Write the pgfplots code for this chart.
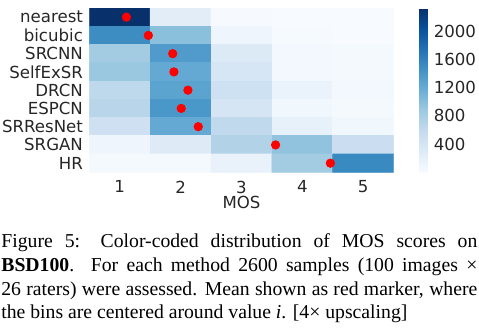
\documentclass[border=0pt]{standalone}
\usepackage{fontspec}
\setmainfont{Liberation Serif}
\newfontfamily\djv{DejaVu Sans}
\usepackage{pgfplots}
\pgfplotsset{compat=1.18}
\definecolor{txt}{HTML}{262626}
\begin{document}
\begin{tikzpicture}
\path[use as bounding box] (-44.65pt,-77.85pt) rectangle (194.85pt,86.15pt);
\begin{axis}[
  scale only axis, width=152.2pt, height=82.15pt,
  xmin=0.5, xmax=5.5, ymin=-0.5, ymax=8.5, y dir=reverse,
  xtick={1,2,3,4,5}, ytick={0,1,2,3,4,5,6,7,8},
  yticklabels={nearest,bicubic,SRCNN,SelfExSR,DRCN,ESPCN,SRResNet,SRGAN,HR},
  axis line style={draw=none}, major tick length=0pt, tick style={draw=none},
  tick label style={font=\djv\fontsize{8.3}{10}\selectfont, text=txt, inner sep=0pt},
  xticklabel style={yshift=-4pt},
  yticklabel style={xshift=-3pt},
  /pgf/number format/assume math mode=true,
  /pgf/number format/1000 sep={},
  xlabel={MOS},
  xlabel style={font=\djv\fontsize{8.3}{10}\selectfont, text=txt, inner sep=0pt,
    at={(axis description cs:0.5,0)}, anchor=north, yshift=-11.5pt},
  colormap={blues}{rgb255(0)=(247,251,255) rgb255(1)=(222,235,247) rgb255(2)=(198,219,239)
    rgb255(3)=(158,202,225) rgb255(4)=(107,174,214) rgb255(5)=(66,146,198)
    rgb255(6)=(33,113,181) rgb255(7)=(8,81,156) rgb255(8)=(8,48,107)},
  point meta min=0, point meta max=2330,
  colorbar,
  colorbar style={
    at={(parent axis.north east)}, anchor=north west, xshift=4.3pt,
    scale only axis, width=4pt, height=82.15pt,
    ytick={400,800,1200,1600,2000},
    axis line style={draw=none}, major tick length=0pt, tick style={draw=none},
    yticklabel style={font=\djv\fontsize{8.3}{10}\selectfont, text=txt, inner sep=0pt, xshift=3pt},
    /pgf/number format/assume math mode=true,
    /pgf/number format/1000 sep={},
    scaled y ticks=false,
  },
]
\addplot[matrix plot*, point meta=explicit, mesh/cols=5] table[meta=c] {
x y c
1 0 2330
2 0 250
3 0 15
4 0 5
5 0 0
1 1 1500
2 1 980
3 1 100
4 1 20
5 1 0
1 2 840
2 2 1360
3 2 310
4 2 60
5 2 30
1 3 900
2 3 1220
3 3 390
4 3 60
5 3 30
1 4 640
2 4 1270
3 4 480
4 4 150
5 4 60
1 5 680
2 5 1400
3 5 400
4 5 80
5 5 40
1 6 490
2 6 1220
3 6 620
4 6 190
5 6 80
1 7 110
2 7 290
3 7 730
4 7 950
5 7 520
1 8 30
2 8 40
3 8 160
4 8 840
5 8 1530
};
\addplot[only marks, mark=*, mark size=2.1pt, color=red, mark options={draw=none, fill=red}] coordinates {
(1.11,0) (1.47,1) (1.87,2) (1.89,3) (2.12,4) (2.01,5) (2.29,6) (3.56,7) (4.46,8)
};
\end{axis}
\node[anchor=base west, inner sep=0pt, text width=238pt, align=justify,
  font=\fontsize{9.85}{11.85}\selectfont] at (-44.15pt,-37.75pt)
  {Figure 5: Color-coded distribution of MOS scores on\linebreak
   \textbf{BSD100}. For each method 2600 samples (100 images ×\linebreak
   26 raters) were assessed. Mean shown as red marker, where\linebreak
   the bins are centered around value \textit{i}. [4× upscaling]};
\end{tikzpicture}
\end{document}
